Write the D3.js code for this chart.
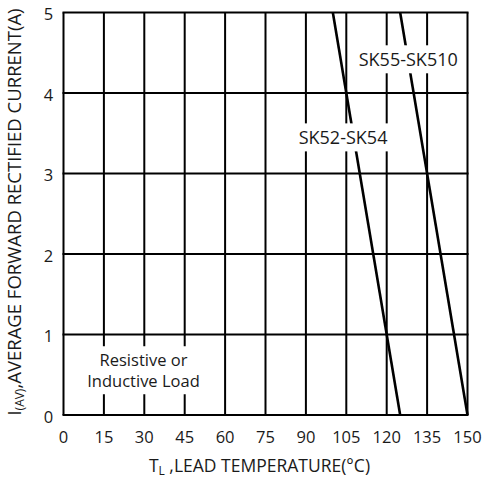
<!DOCTYPE html>
<html>
<head>
<meta charset="utf-8">
<script src="https://cdn.jsdelivr.net/npm/d3@7"></script>
<style>
  body { margin: 0; background: #fff; }
  text { font-family: "Open Sans", "Noto Sans", sans-serif; fill: #1a1a1a; }
</style>
</head>
<body>
<div id="chart"></div>
<script>
const width = 486, height = 479;
const margin = { left: 63.5, right: 18.5, top: 12.5, bottom: 64 };

const xTicks = [0, 15, 30, 45, 60, 75, 90, 105, 120, 135, 150];
const yTicks = [0, 1, 2, 3, 4, 5];

// derating curves: lead temperature (°C) vs current (A)
const sk52Temp = [100, 125];
const sk52Current = [5, 0];
const sk55Temp = [125, 150];
const sk55Current = [5, 0];

const curves = [
  { name: 'SK52-SK54', temp: sk52Temp, current: sk52Current, label: [103.8, 3.44] },
  { name: 'SK55-SK510', temp: sk55Temp, current: sk55Current, label: [128, 4.41] },
];
const note = ['Resistive or', 'Inductive Load'];

const svg = d3.select('#chart')
  .append('svg')
    .attr('width', width)
    .attr('height', height);

const x = d3.scaleLinear().domain([0, 150]).range([margin.left, width - margin.right]);
const y = d3.scaleLinear().domain([0, 5]).range([height - margin.bottom, margin.top]);

const grid = svg.append('g').attr('stroke', '#000').attr('stroke-width', 2);
grid.selectAll('.vx').data(xTicks).join('line')
  .attr('x1', d => x(d)).attr('x2', d => x(d))
  .attr('y1', y(0)).attr('y2', y(5));
grid.selectAll('.hy').data(yTicks).join('line')
  .attr('x1', x(0) - 1).attr('x2', x(150) + 1)
  .attr('y1', d => y(d)).attr('y2', d => y(d));

const line = d3.line().x(d => x(d[0])).y(d => y(d[1]));
svg.selectAll('.curve').data(curves).join('path')
  .attr('fill', 'none')
  .attr('stroke', '#000')
  .attr('stroke-width', 2.6)
  .attr('d', c => line(d3.zip(c.temp, c.current)));

// labels with white backing
let boxedText = (cx, cy, lines, size, gap) => {
  const g = svg.append('g');
  const bg = g.append('rect').attr('fill', '#fff');
  lines.forEach((s, i) => {
    g.append('text')
      .attr('text-anchor', 'middle')
      .style('font-size', size + 'px')
      .attr('x', cx)
      .attr('y', cy + (i - (lines.length - 1) / 2) * gap)
      .attr('dy', '0.35em')
      .text(s);
  });
  const b = g.node().getBBox();
  bg.attr('x', b.x - 2).attr('y', b.y - 2).attr('width', b.width + 4).attr('height', b.height + 4);
};

curves.forEach(c => boxedText(x(c.label[0]), y(c.label[1]), [c.name], 18, 0));
boxedText(x(29.7), y(0.547), note, 16.5, 21);

// tick labels
svg.selectAll('.xt').data(xTicks).join('text')
  .attr('x', d => x(d))
  .attr('y', y(0) + 28)
  .attr('text-anchor', 'middle')
  .style('font-size', '16.5px')
  .text(d => d);
svg.selectAll('.yt').data(yTicks).join('text')
  .attr('x', x(0) - 15)
  .attr('y', d => y(d) + 2)
  .attr('dy', '0.35em')
  .attr('text-anchor', 'middle')
  .style('font-size', '16.5px')
  .text(d => d);

// axis titles
const xt = svg.append('text')
  .attr('x', (x(0) + x(150)) / 2 - 6)
  .attr('y', 472)
  .attr('text-anchor', 'middle')
  .style('font-size', '17.5px');
xt.append('tspan').text('T');
xt.append('tspan').attr('dy', 3).style('font-size', '12px').text('L');
xt.append('tspan').attr('dy', -3).text(' ,LEAD TEMPERATURE(°C)');

const yt = svg.append('text')
  .attr('transform', `translate(21,212) rotate(-90)`)
  .attr('text-anchor', 'middle')
  .style('font-size', '18.5px');
yt.append('tspan').text('I');
yt.append('tspan').attr('dy', 3).style('font-size', '12px').text('(AV)');
yt.append('tspan').attr('dy', -3).text(',AVERAGE FORWARD RECTIFIED CURRENT(A)');
</script>
</body>
</html>
